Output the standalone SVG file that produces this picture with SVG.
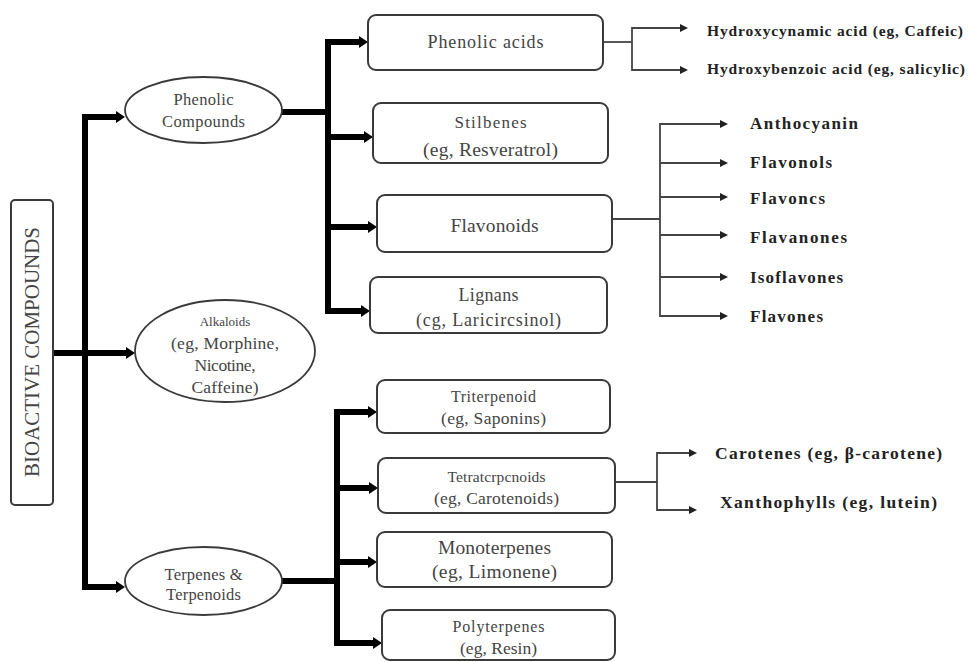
<svg xmlns="http://www.w3.org/2000/svg" width="969" height="662" viewBox="0 0 969 662">
<defs>
<style>
.box{fill:#fff;stroke:#3a3a3a;stroke-width:2}
.ell{fill:#fff;stroke:#3a3a3a;stroke-width:1.8}
.t{font-family:"Liberation Serif","Times New Roman",serif;fill:#444;text-anchor:middle}
.b{font-family:"Liberation Serif","Times New Roman",serif;fill:#222;font-weight:bold}
.thick{fill:none;stroke:#000;stroke-width:6;stroke-linejoin:miter}
.thin{fill:none;stroke:#444;stroke-width:1.8}
</style>
<marker id="ah" markerUnits="userSpaceOnUse" markerWidth="10" markerHeight="12" refX="0" refY="6" orient="auto">
<path d="M0,0 L9,6 L0,12 z" fill="#000"/>
</marker>
<marker id="at" markerUnits="userSpaceOnUse" markerWidth="9" markerHeight="8" refX="0" refY="4" orient="auto">
<path d="M0,0 L8,4 L0,8 z" fill="#222"/>
</marker>
</defs>
<rect width="969" height="662" fill="#fff"/>

<g id="connectors">
<path class="thick" d="M53,353 H126" marker-end="url(#ah)"/>
<path class="thick" d="M85,353 V117 H116" marker-end="url(#ah)"/>
<path class="thick" d="M85,353 V587 H116" marker-end="url(#ah)"/>

<path class="thick" d="M282,112 H331"/>
<path class="thick" d="M328,112 V42 H359" marker-end="url(#ah)"/>
<path class="thick" d="M328,112 V311 H361" marker-end="url(#ah)"/>
<path class="thick" d="M325,137 H364" marker-end="url(#ah)"/>
<path class="thick" d="M325,227 H368" marker-end="url(#ah)"/>

<path class="thick" d="M282,581 H340"/>
<path class="thick" d="M337,581 V412 H368" marker-end="url(#ah)"/>
<path class="thick" d="M337,581 V643 H373" marker-end="url(#ah)"/>
<path class="thick" d="M334,488 H369" marker-end="url(#ah)"/>
<path class="thick" d="M334,562 H368" marker-end="url(#ah)"/>

<path class="thin" d="M603,42 H632"/>
<path class="thin" d="M632,42 V28 H680" marker-end="url(#at)"/>
<path class="thin" d="M632,42 V70 H680" marker-end="url(#at)"/>

<path class="thin" d="M612,219 H660"/>
<path class="thin" d="M660,219 V124 H720" marker-end="url(#at)"/>
<path class="thin" d="M660,163 H720" marker-end="url(#at)"/>
<path class="thin" d="M660,197 H720" marker-end="url(#at)"/>
<path class="thin" d="M660,235 H720" marker-end="url(#at)"/>
<path class="thin" d="M660,277 H720" marker-end="url(#at)"/>
<path class="thin" d="M660,219 V316 H720" marker-end="url(#at)"/>

<path class="thin" d="M615,482 H657"/>
<path class="thin" d="M657,482 V453 H689" marker-end="url(#at)"/>
<path class="thin" d="M657,482 V510 H689" marker-end="url(#at)"/>
</g>

<g id="bioactive">
<rect class="box" x="11" y="200" width="42" height="305" rx="4"/>
<text class="t" font-size="20" transform="translate(39,352) rotate(-90)" textLength="250" lengthAdjust="spacingAndGlyphs">BIOACTIVE COMPOUNDS</text>
</g>

<g id="phenolic">
<ellipse class="ell" cx="203.5" cy="110" rx="78.5" ry="33"/>
<text class="t" font-size="16.5" x="203.5" y="105" textLength="60">Phenolic</text>
<text class="t" font-size="16.5" x="203.5" y="127" textLength="83">Compounds</text>
</g>

<g id="alkaloids">
<ellipse class="ell" cx="225" cy="351" rx="90" ry="51"/>
<text class="t" font-size="13" x="225" y="326">Alkaloids</text>
<text class="t" font-size="17.5" x="225" y="349" textLength="108">(eg, Morphine,</text>
<text class="t" font-size="17.5" x="225" y="371" textLength="61">Nicotine,</text>
<text class="t" font-size="17.5" x="225" y="393" textLength="67">Caffeine)</text>
</g>

<g id="terpenes">
<ellipse class="ell" cx="203.5" cy="581" rx="78.5" ry="34"/>
<text class="t" font-size="16.5" x="203.5" y="580" textLength="78">Terpenes &amp;</text>
<text class="t" font-size="16.5" x="203.5" y="600" textLength="75">Terpenoids</text>
</g>

<g id="phenolic-acids">
<rect class="box" x="368" y="15" width="235" height="55" rx="8"/>
<text class="t" font-size="18" x="485.5" y="48" textLength="116">Phenolic acids</text>
</g>

<g id="stilbenes">
<rect class="box" x="373" y="103" width="235" height="60" rx="8"/>
<text class="t" font-size="17" x="490.5" y="128" textLength="72">Stilbenes</text>
<text class="t" font-size="19.5" x="490.5" y="156" textLength="135">(eg, Resveratrol)</text>
</g>

<g id="flavonoids">
<rect class="box" x="377" y="195" width="235" height="57" rx="8"/>
<text class="t" font-size="19.5" x="494.5" y="232" textLength="88">Flavonoids</text>
</g>

<g id="lignans">
<rect class="box" x="370" y="277" width="237" height="56" rx="8"/>
<text class="t" font-size="18" x="488.5" y="301" textLength="60">Lignans</text>
<text class="t" font-size="18" x="488.5" y="326" textLength="145">(cg, Laricircsinol)</text>
</g>

<g id="triterpenoid">
<rect class="box" x="377" y="380" width="233" height="53" rx="8"/>
<text class="t" font-size="16" x="493.5" y="402" textLength="85">Triterpenoid</text>
<text class="t" font-size="17.5" x="493.5" y="424" textLength="105">(eg, Saponins)</text>
</g>

<g id="tetraterpenoids">
<rect class="box" x="378" y="458" width="237" height="55" rx="8"/>
<text class="t" font-size="15.5" x="496.5" y="482" textLength="98">Tetratcrpcnoids</text>
<text class="t" font-size="17.5" x="496.5" y="504" textLength="125">(eg, Carotenoids)</text>
</g>

<g id="monoterpenes">
<rect class="box" x="377" y="532" width="235" height="55" rx="8"/>
<text class="t" font-size="19.5" x="494.5" y="554" textLength="113">Monoterpenes</text>
<text class="t" font-size="19.5" x="494.5" y="578" textLength="125">(eg, Limonene)</text>
</g>

<g id="polyterpenes">
<rect class="box" x="382" y="610" width="233" height="50" rx="8"/>
<text class="t" font-size="16" x="498.5" y="632" textLength="92">Polyterpenes</text>
<text class="t" font-size="17.5" x="498.5" y="654" textLength="77">(eg, Resin)</text>
</g>

<g id="hydroxycynamic"><text class="b" font-size="15.5" x="707" y="36" textLength="256">Hydroxycynamic acid (eg, Caffeic)</text></g>
<g id="hydroxybenzoic"><text class="b" font-size="15.5" x="707" y="74" textLength="258">Hydroxybenzoic acid (eg, salicylic)</text></g>

<g id="anthocyanin"><text class="b" font-size="17" x="750" y="129" textLength="108">Anthocyanin</text></g>
<g id="flavonols"><text class="b" font-size="17" x="750" y="168" textLength="82">Flavonols</text></g>
<g id="flavoncs"><text class="b" font-size="17" x="750" y="204" textLength="75">Flavoncs</text></g>
<g id="flavanones"><text class="b" font-size="17" x="750" y="243" textLength="97">Flavanones</text></g>
<g id="isoflavones"><text class="b" font-size="17" x="750" y="283" textLength="93">Isoflavones</text></g>
<g id="flavones"><text class="b" font-size="17" x="750" y="322" textLength="73">Flavones</text></g>

<g id="carotenes"><text class="b" font-size="17.5" x="715" y="459" textLength="227">Carotenes (eg, β-carotene)</text></g>
<g id="xanthophylls"><text class="b" font-size="17.5" x="720" y="508" textLength="217">Xanthophylls (eg, lutein)</text></g>
</svg>
